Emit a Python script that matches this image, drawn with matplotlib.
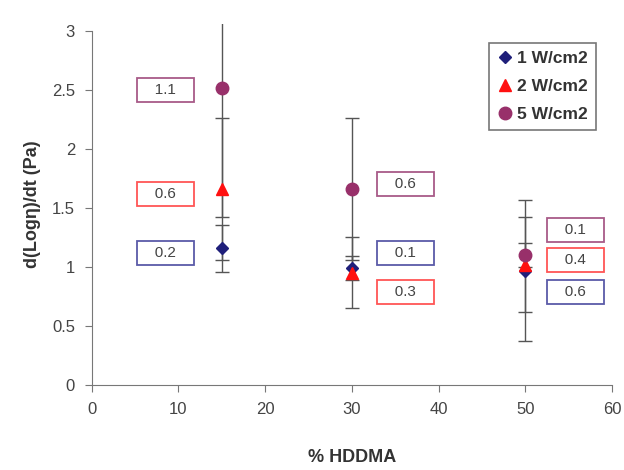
import matplotlib.pyplot as plt
import numpy as np

plt.rcParams['font.family'] = ['Liberation Sans', 'DejaVu Sans']

hddma = [15, 30, 50]
series = ['1 W/cm2', '2 W/cm2', '5 W/cm2']
rate_1w = [1.16, 0.99, 0.97]
rate_2w = [1.66, 0.95, 1.02]
rate_5w = [2.52, 1.66, 1.10]
err_1w = [0.2, 0.1, 0.6]
err_2w = [0.6, 0.3, 0.4]
err_5w = [1.1, 0.6, 0.1]

fig = plt.figure(figsize=(6.24, 4.70), dpi=100)
ax = fig.add_axes([0.147, 0.181, 0.834, 0.768])

markers = ['D', '^', 'o']
colors = ['#1f1f7a', '#ff1010', '#98306a']
box_colors = ['#5a5aa8', '#ff5555', '#a85a88']
sizes = [6.5, 9, 9]
values = [rate_1w, rate_2w, rate_5w]
errs = [err_1w, err_2w, err_5w]

# error bars first so the markers sit on top
for v, e in zip(values, errs):
    ax.errorbar(hddma, v, yerr=e, fmt='none', ecolor='#555555',
                elinewidth=1.0, capsize=5, capthick=1.0, zorder=1)

for v, m, c, s, lab in zip(values, markers, colors, sizes, series):
    ax.plot(hddma, v, linestyle='none', marker=m, color=c,
            markersize=s, label=lab, zorder=3)

# boxed labels with the error sizes
label_x = [8.5, 36.2, 55.8]
label_y = [
    [1.12, 1.12, 0.79],
    [1.62, 0.79, 1.06],
    [2.5, 1.70, 1.31],
]
for k in range(3):
    for j in range(3):
        ax.text(label_x[j], label_y[k][j], '   %.1f   ' % errs[k][j],
                ha='center', va='center', fontsize=11, color='#444444',
                bbox=dict(boxstyle='square,pad=0.33', fc='white',
                          ec=box_colors[k], lw=1.3))

ax.set_xlim(0, 60)
ax.set_ylim(0, 3.06)
ax.spines['left'].set_bounds(0, 3)
ax.set_xticks(np.arange(0, 61, 10))
ax.set_yticks([0, 0.5, 1, 1.5, 2, 2.5, 3])
ax.set_yticklabels(['0', '0.5', '1', '1.5', '2', '2.5', '3'])
ax.spines['top'].set_visible(False)
ax.spines['right'].set_visible(False)
for sp in ['left', 'bottom']:
    ax.spines[sp].set_color('#777777')
ax.tick_params(direction='out', length=5, color='#777777',
               labelsize=12, labelcolor='#444444', pad=7)

ax.set_xlabel('% HDDMA', fontsize=13, fontweight='bold', color='#333333',
              labelpad=23)
ax.set_ylabel('d(Log\u03b7)/dt (Pa)', fontsize=13, fontweight='bold',
              color='#333333', labelpad=8)

leg = ax.legend(loc='upper right', bbox_to_anchor=(0.969, 0.947),
                borderaxespad=0,
                prop={'weight': 'bold', 'size': 12.5}, frameon=True,
                fancybox=False, edgecolor='#555555', handletextpad=0.2,
                handlelength=1.0, borderpad=0.45, labelspacing=0.75)
leg.get_frame().set_linewidth(1.2)
for t in leg.get_texts():
    t.set_color('#333333')

fig.savefig('out.png', dpi=100)
